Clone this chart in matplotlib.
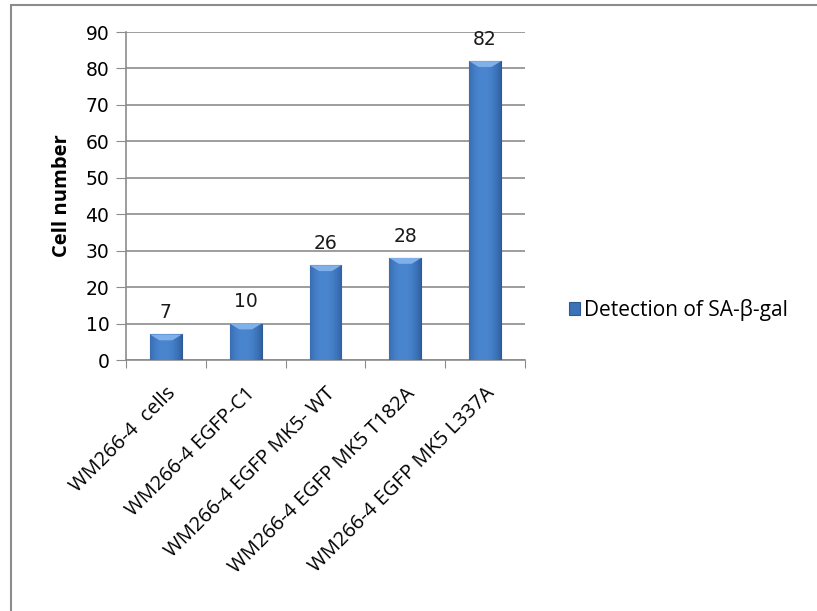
import matplotlib.pyplot as plt
import numpy as np
from matplotlib.patches import Rectangle

categories = ["WM266-4  cells", "WM266-4 EGFP-C1", "WM266-4 EGFP MK5- WT",
              "WM266-4 EGFP MK5 T182A", "WM266-4 EGFP MK5 L337A"]
values = [7, 10, 26, 28, 82]
series_name = "Detection of SA-\u03b2-gal"
yticks = list(range(0, 100, 10))

plt.rcParams['font.family'] = ['Open Sans', 'DejaVu Sans']

fig = plt.figure(figsize=(8.17, 6.11), dpi=100)
ax = fig.add_axes([126 / 817, 1 - 360 / 611, 399 / 817, 328 / 611])

# outer chart frame
fig.patches.append(Rectangle((11 / 817, -0.1), 1.2, 1 - 5 / 611 + 0.1,
                             transform=fig.transFigure, fill=False,
                             edgecolor='#8c8c8c', lw=1.5))

x = np.arange(len(categories))
bars = ax.bar(x, values, width=0.4, color='#3c72b8', edgecolor='#2d5a92',
              lw=0.8, zorder=3, label=series_name)

# horizontal shading for a little depth, plus a light bevel on top
grad = np.linspace(0, 1, 64)
grad = 1 - 0.55 * (np.abs(grad - 0.45) * 2) ** 2
cmap = plt.matplotlib.colors.LinearSegmentedColormap.from_list(
    'b', ['#23508f', '#4a86d0'])
for b, v in zip(bars, values):
    bx, bw = b.get_x(), b.get_width()
    im = ax.imshow(grad[None, :], cmap=cmap, aspect='auto', vmin=0, vmax=1,
                   extent=(bx, bx + bw, 0, v), zorder=3.5)
    im.set_clip_path(b)
    bev = min(1.6, v * 0.3)
    ax.fill([bx, bx + bw, bx + bw * 0.7, bx + bw * 0.3],
            [v, v, v - bev, v - bev], color='#7fb0ea', lw=0, zorder=4)
    ax.text(b.get_x() + bw / 2, v + 3.4, str(v), ha='center', va='bottom',
            fontsize=13.5, family='DejaVu Sans', color='#1a1a1a', zorder=5)

ax.set_xlim(-0.5, len(categories) - 0.5)
ax.set_ylim(0, 90)
ax.set_yticks(yticks)
ax.set_yticklabels([str(t) for t in yticks], family='DejaVu Sans',
                   fontsize=13.5)
ax.yaxis.grid(True, color='#8c8c8c', lw=1.2, zorder=0)
ax.set_axisbelow(True)

ax.set_xticks(np.arange(len(categories) + 1) - 0.5, minor=False)
ax.set_xticklabels([])
ax.set_xticks(x, minor=True)
ax.set_xticklabels(categories, minor=True, rotation=45, ha='right',
                   rotation_mode='anchor', fontsize=14.5)
ax.tick_params(axis='x', which='minor', length=0, pad=17)
ax.tick_params(axis='x', which='major', length=6, color='#8c8c8c',
               direction='out')
ax.tick_params(axis='y', length=7, color='#8c8c8c', pad=5)

for s in ['top', 'right']:
    ax.spines[s].set_visible(False)
ax.spines['left'].set_color('#8c8c8c')
ax.spines['bottom'].set_color('#8c8c8c')
ax.spines['left'].set_linewidth(1.2)
ax.spines['bottom'].set_linewidth(1.2)

ax.set_ylabel('Cell number', fontsize=14.5, fontweight='bold', labelpad=10)

fig.legend(handles=[bars], labels=[series_name], loc='center left',
           bbox_to_anchor=(550 / 817, 1 - 310 / 611), frameon=False,
           fontsize=15, handlelength=0.55, handleheight=0.55,
           handletextpad=0.2)

fig.savefig('out.png', dpi=100)
